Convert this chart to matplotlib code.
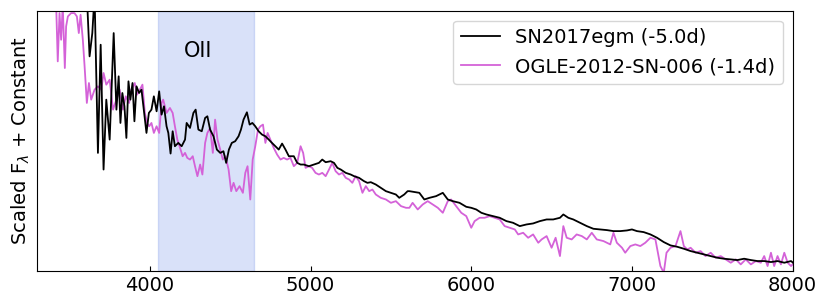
import numpy as np
import matplotlib
matplotlib.use('Agg')
import matplotlib.pyplot as plt

# SN2017egm (-5.0d), wavelength in Angstrom, flux in arbitrary scaled units
wave_egm = [3608, 3625, 3642, 3656, 3677, 3694, 3712, 3729, 3750, 3775, 3792, 3806, 3817, 3829,
            3842, 3854, 3867, 3879, 3892, 3904, 3917, 3933, 3948, 3962, 3979, 3994, 4010, 4025,
            4042, 4058, 4073, 4088, 4104, 4115, 4129, 4142, 4156, 4177, 4198, 4219, 4229, 4250,
            4271, 4285, 4302, 4323, 4344, 4358, 4375, 4396, 4417, 4438, 4458, 4475, 4492, 4510,
            4531, 4552, 4567, 4583, 4604, 4621, 4638, 4656, 4677, 4698, 4719, 4740, 4760, 4781,
            4802, 4823, 4844, 4865, 4896, 4917, 4938, 4958, 4990, 5021, 5052, 5073, 5094, 5125,
            5146, 5167, 5188, 5219, 5250, 5271, 5302, 5333, 5354, 5375, 5406, 5437, 5469, 5500,
            5531, 5552, 5583, 5604, 5615, 5677, 5708, 5740, 5781, 5823, 5854, 5885, 5927, 5969,
            6000, 6031, 6063, 6094, 6135, 6177, 6219, 6260, 6302, 6344, 6385, 6427, 6469, 6510,
            6552, 6573, 6604, 6635, 6677, 6719, 6760, 6802, 6844, 6885, 6927, 6969, 7000, 7031,
            7073, 7115, 7156, 7198, 7240, 7281, 7323, 7365, 7406, 7448, 7490, 7531, 7573, 7615,
            7656, 7698, 7740, 7781, 7823, 7865, 7906, 7948, 7990, 8010]
flux_egm = [8.30, 6.45, 7.15, 8.30, 3.55, 6.80, 3.05, 5.15, 3.95, 7.15, 4.85, 5.85, 4.45, 5.35,
            4.95, 4.00, 5.70, 5.15, 5.65, 4.50, 5.55, 5.35, 5.45, 4.85, 4.15, 4.75, 4.85, 5.25,
            4.80, 5.40, 4.70, 4.95, 4.35, 4.15, 3.53, 4.20, 3.75, 3.85, 3.75, 3.95, 4.45, 4.30,
            4.75, 4.85, 4.25, 4.20, 4.60, 4.65, 4.25, 4.05, 3.65, 3.55, 3.60, 3.25, 3.65, 3.85,
            3.90, 4.05, 4.25, 4.55, 4.77, 4.40, 4.45, 4.35, 4.20, 4.10, 4.05, 3.95, 3.85, 3.75,
            3.65, 3.83, 3.65, 3.45, 3.45, 3.25, 3.20, 3.20, 3.15, 3.20, 3.25, 3.35, 3.27, 3.30,
            3.25, 3.10, 3.05, 2.95, 2.90, 2.85, 2.80, 2.70, 2.65, 2.67, 2.60, 2.50, 2.40, 2.35,
            2.30, 2.20, 2.30, 2.40, 2.40, 2.35, 2.15, 2.20, 2.25, 2.35, 2.15, 2.10, 2.05, 1.93,
            1.90, 1.85, 1.75, 1.70, 1.65, 1.60, 1.50, 1.45, 1.35, 1.40, 1.43, 1.50, 1.55, 1.55,
            1.60, 1.70, 1.60, 1.55, 1.45, 1.35, 1.27, 1.25, 1.23, 1.20, 1.20, 1.22, 1.25, 1.20,
            1.17, 1.10, 1.00, 0.87, 0.77, 0.73, 0.67, 0.60, 0.55, 0.50, 0.45, 0.40, 0.37, 0.35,
            0.33, 0.37, 0.33, 0.30, 0.30, 0.27, 0.30, 0.25, 0.30, 0.22]

# OGLE-2012-SN-006 (-1.4d)
wave_ogle = [3396, 3417, 3427, 3438, 3448, 3458, 3471, 3479, 3490, 3510, 3531, 3546, 3558, 3569,
             3583, 3594, 3608, 3621, 3635, 3656, 3677, 3698, 3712, 3729, 3750, 3771, 3792, 3812,
             3833, 3850, 3871, 3885, 3906, 3921, 3938, 3954, 3969, 3983, 3996, 4010, 4025, 4042,
             4058, 4073, 4083, 4104, 4125, 4142, 4156, 4171, 4188, 4204, 4219, 4233, 4250, 4267,
             4281, 4296, 4313, 4327, 4344, 4358, 4375, 4392, 4406, 4421, 4438, 4454, 4471, 4490,
             4506, 4521, 4538, 4558, 4579, 4594, 4608, 4625, 4640, 4656, 4673, 4688, 4704, 4719,
             4733, 4750, 4771, 4792, 4813, 4833, 4854, 4875, 4896, 4917, 4938, 4954, 4969, 4990,
             5010, 5031, 5052, 5073, 5094, 5115, 5135, 5156, 5177, 5198, 5219, 5240, 5260, 5281,
             5302, 5323, 5344, 5365, 5385, 5406, 5437, 5469, 5500, 5531, 5563, 5594, 5615, 5635,
             5667, 5698, 5729, 5760, 5792, 5823, 5854, 5875, 5906, 5938, 5969, 6000, 6021, 6052,
             6083, 6115, 6146, 6177, 6208, 6240, 6271, 6292, 6323, 6354, 6385, 6417, 6438, 6469,
             6500, 6525, 6552, 6573, 6594, 6625, 6656, 6688, 6719, 6750, 6781, 6823, 6865, 6885,
             6906, 6938, 6958, 6990, 7021, 7052, 7083, 7115, 7146, 7177, 7198, 7215, 7240, 7271,
             7302, 7323, 7344, 7365, 7396, 7427, 7458, 7490, 7521, 7552, 7583, 7615, 7646, 7677,
             7708, 7740, 7771, 7802, 7823, 7844, 7865, 7885, 7906, 7927, 7948, 7969, 7990, 8010]
flux_ogle = [8.30, 8.00, 6.30, 7.75, 6.95, 8.00, 6.10, 7.35, 7.65, 7.75, 7.75, 7.65, 7.15, 7.70,
             6.95, 6.15, 5.05, 5.65, 5.15, 5.45, 5.55, 5.45, 5.95, 5.60, 5.75, 4.85, 5.15, 5.45,
             4.85, 5.25, 5.05, 5.45, 5.65, 5.30, 5.45, 5.60, 4.75, 4.45, 4.35, 4.45, 4.15, 4.35,
             4.15, 5.05, 5.15, 4.75, 4.90, 4.75, 4.35, 3.95, 3.70, 3.45, 3.55, 3.40, 3.35, 3.45,
             3.15, 2.85, 3.20, 2.90, 3.85, 4.15, 4.30, 3.55, 4.55, 3.95, 3.65, 3.35, 3.45, 3.05,
             2.40, 2.65, 2.40, 2.55, 2.35, 2.95, 3.15, 2.15, 3.35, 3.75, 4.25, 4.35, 4.40, 3.85,
             4.15, 3.95, 3.70, 3.50, 3.35, 3.40, 3.35, 3.40, 3.15, 3.25, 3.75, 3.55, 3.10, 3.15,
             3.10, 2.95, 2.90, 2.95, 2.85, 3.05, 3.25, 3.00, 2.90, 2.95, 2.80, 2.75, 2.65, 2.85,
             2.70, 2.35, 2.55, 2.40, 2.45, 2.30, 2.20, 2.15, 2.05, 2.10, 1.95, 1.90, 1.90, 2.05,
             1.85, 2.00, 2.10, 2.00, 1.90, 1.75, 2.10, 2.15, 1.95, 1.75, 1.65, 1.30, 1.50, 1.60,
             1.60, 1.65, 1.60, 1.55, 1.35, 1.30, 1.25, 1.10, 1.15, 1.00, 1.10, 0.85, 0.95, 1.05,
             0.70, 1.00, 0.45, 1.35, 1.00, 0.95, 1.10, 1.05, 0.95, 1.15, 0.95, 0.90, 0.80, 1.15,
             0.85, 0.70, 0.55, 0.75, 0.80, 0.75, 0.85, 1.00, 0.95, 0.15, -0.05, 0.55, 0.70, 0.75,
             1.20, 0.75, 0.65, 0.70, 0.55, 0.60, 0.45, 0.55, 0.40, 0.45, 0.35, 0.25, 0.35, 0.20,
             0.35, 0.20, 0.30, 0.25, 0.45, 0.15, 0.55, 0.15, 0.45, 0.20, 0.55, 0.25, 0.15, 0.25]

oii_range = (4050, 4650)

fig, ax = plt.subplots(figsize=(8.3, 3.08), dpi=100)
fig.subplots_adjust(left=0.045, right=0.955, top=0.965, bottom=0.12)

ax.axvspan(oii_range[0], oii_range[1], color='royalblue', alpha=0.2)
ax.plot(wave_egm, flux_egm, color='k', lw=1.3, label='SN2017egm (-5.0d)', zorder=3)
ax.plot(wave_ogle, flux_ogle, color='#d462d8', lw=1.3, label='OGLE-2012-SN-006 (-1.4d)', zorder=2)

ax.text(4300, 6.6, 'OII', fontsize=15, ha='center', va='center')

ax.set_xlim(3300, 8000)
ax.set_ylim(0, 7.82)
ax.set_yticks([])
ax.set_xticks([4000, 5000, 6000, 7000, 8000])
ax.tick_params(axis='x', direction='in', labelsize=14)
ax.set_ylabel(r'Scaled F$_\lambda$ + Constant', fontsize=14)
ax.legend(loc='upper right', fontsize=14)

plt.savefig('out.png', dpi=100)
